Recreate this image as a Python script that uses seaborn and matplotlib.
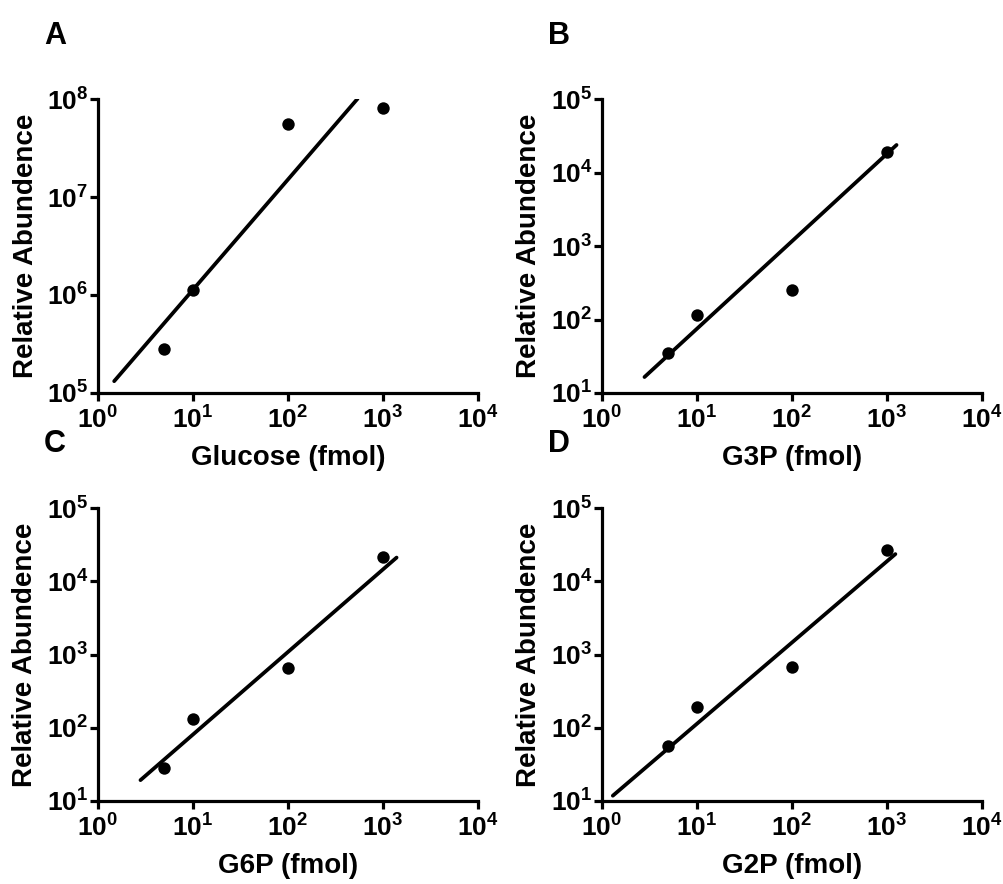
import numpy as np
import pandas as pd
import matplotlib
matplotlib.use("Agg")
import matplotlib.pyplot as plt
import seaborn as sns
from matplotlib.ticker import LogLocator, LogFormatterSciNotation, NullLocator

# ---------------- data ----------------
panel_letters = ["A", "B", "C", "D"]
x_labels = ["Glucose (fmol)", "G3P (fmol)", "G6P (fmol)", "G2P (fmol)"]
amount_fmol = [5, 10, 100, 1000]

abundance_glucose = [2.8e5, 1.12e6, 5.6e7, 8.0e7]
abundance_g3p = [35, 115, 250, 1.9e4]
abundance_g6p = [28, 130, 660, 2.15e4]
abundance_g2p = [56, 190, 676, 2.7e4]

# log10-log10 fit of each panel: slope, intercept, and x extent of the fit line
fit_slope = [1.125, 1.19, 1.127, 1.109]
fit_intercept = [4.929, 0.685, 0.781, 0.946]
fit_x_start = [1.48, 2.8, 2.8, 1.3]
fit_x_end = [540, 1260, 1390, 1225]

y_limits = [(1e5, 1e8), (1e1, 1e5), (1e1, 1e5), (1e1, 1e5)]
x_limits = (1, 1e4)

abundances = [abundance_glucose, abundance_g3p, abundance_g6p, abundance_g2p]

# ---------------- style ----------------
sns.set_theme(style="ticks")
plt.rcParams["font.family"] = ["Liberation Sans", "DejaVu Sans"]
plt.rcParams["font.weight"] = "bold"
plt.rcParams["text.color"] = "black"
plt.rcParams["axes.labelcolor"] = "black"
plt.rcParams["xtick.color"] = "black"
plt.rcParams["ytick.color"] = "black"
plt.rcParams["mathtext.fontset"] = "custom"
plt.rcParams["mathtext.rm"] = "Liberation Sans:bold"
plt.rcParams["mathtext.it"] = "Liberation Sans:bold:italic"
plt.rcParams["mathtext.bf"] = "Liberation Sans:bold"
plt.rcParams["mathtext.sf"] = "Liberation Sans:bold"

W, H = 1004, 884
fig = plt.figure(figsize=(W / 100, H / 100), dpi=100)

# axes boxes in pixels: (left, top, right, bottom)
boxes = [(98, 99, 478, 393), (602, 99, 982, 393),
         (98, 508, 478, 801), (602, 508, 982, 801)]
letter_pos = [(44, 44), (548, 44), (44, 452), (548, 452)]

for i in range(4):
    l, t, r, b = boxes[i]
    ax = fig.add_axes([l / W, 1 - b / H, (r - l) / W, (b - t) / H])
    df = pd.DataFrame({"x": amount_fmol, "y": abundances[i]})
    xs = np.array([fit_x_start[i], fit_x_end[i]])
    ys = 10 ** (fit_intercept[i] + fit_slope[i] * np.log10(xs))
    fit_df = pd.DataFrame({"x": xs, "y": ys})

    ax.set_xscale("log")
    ax.set_yscale("log")
    sns.lineplot(data=fit_df, x="x", y="y", ax=ax, color="black", linewidth=2.7,
                 estimator=None, sort=False)
    sns.scatterplot(data=df, x="x", y="y", ax=ax, color="black", s=80,
                    edgecolor="black", linewidth=0, zorder=3)

    ax.set_xlim(*x_limits)
    ax.set_ylim(*y_limits[i])
    ax.xaxis.set_major_locator(LogLocator(base=10, numticks=10))
    ax.yaxis.set_major_locator(LogLocator(base=10, numticks=10))
    ax.xaxis.set_minor_locator(NullLocator())
    ax.yaxis.set_minor_locator(NullLocator())
    ax.xaxis.set_major_formatter(LogFormatterSciNotation())
    ax.yaxis.set_major_formatter(LogFormatterSciNotation())

    for side in ["top", "right"]:
        ax.spines[side].set_visible(False)
    for side in ["left", "bottom"]:
        ax.spines[side].set_linewidth(2.3)
        ax.spines[side].set_color("black")
    ax.tick_params(axis="both", which="major", length=6, width=2.3, color="black",
                   labelsize=19, labelcolor="black", direction="out")
    ax.tick_params(axis="x", pad=4)
    ax.tick_params(axis="y", pad=1)

    ax.set_xlabel(x_labels[i], fontsize=20, fontweight="bold", labelpad=8,
                  color="black")
    ax.set_ylabel("Relative Abundence", fontsize=20, fontweight="bold", labelpad=6,
                  color="black")
    ax.set_facecolor("white")

    lx, ly = letter_pos[i]
    fig.text(lx / W, 1 - ly / H, panel_letters[i], fontsize=22, fontweight="bold",
             ha="left", va="baseline", color="black")

fig.patch.set_facecolor("white")
fig.savefig("out.png", dpi=100, facecolor="white")
